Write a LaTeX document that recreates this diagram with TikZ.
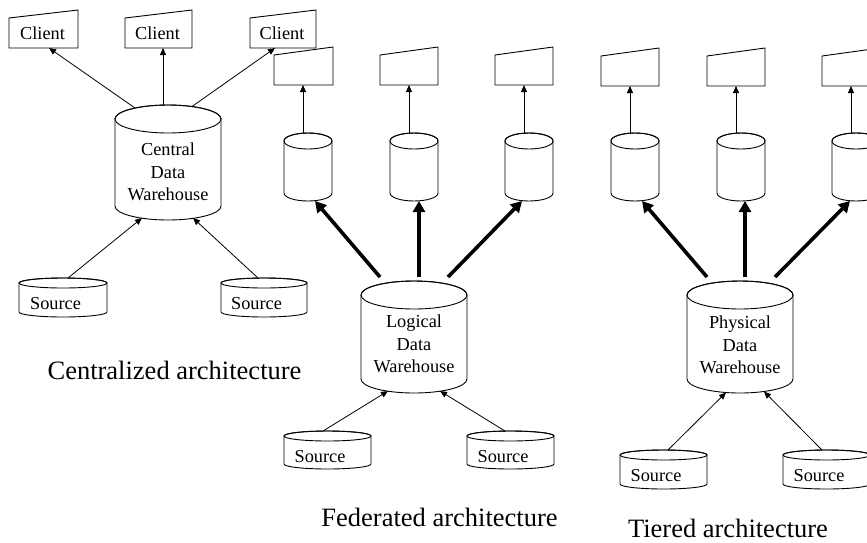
\documentclass[tikz,border=0pt]{standalone}
\usepackage{fontspec}
\setmainfont{Liberation Serif}
\usetikzlibrary{arrows.meta,calc}
\tikzset{
  thinline/.style={line width=0.9pt, line join=miter},
  conn/.style={line width=0.8pt, -{Triangle[length=7pt,width=6pt]}},
  bigconn/.style={line width=3.6pt, -{Triangle[length=11pt,width=12pt]}},
  lbl/.style={font=\fontsize{18.3}{22.5}\selectfont, inner sep=0pt, align=center},
  captxt/.style={font=\fontsize{26.5}{30}\selectfont, inner sep=0pt},
  anchorbox/.style={rectangle, inner sep=0pt, outer sep=0pt, draw=none}
}
% cylinder: name, x1, x2, ytop, ybot, ry
\newcommand\dbcyl[6]{%
  \pgfmathsetmacro\cylcx{(#2+#3)/2}%
  \pgfmathsetmacro\cylrx{(#3-#2)/2}%
  \pgfmathsetmacro\cylya{#4+#6}%
  \pgfmathsetmacro\cylyb{#5-#6}%
  \pgfmathsetmacro\cylcy{(#4+#5)/2}%
  \pgfmathsetmacro\cylw{#3-#2}%
  \pgfmathsetmacro\cylh{#5-#4}%
  \filldraw[thinline,fill=white] (#2,\cylya) -- (#2,\cylyb)
     arc[start angle=180,end angle=360,x radius=\cylrx pt,y radius=#6pt]
     -- (#3,\cylya)
     arc[start angle=0,end angle=180,x radius=\cylrx pt,y radius=#6pt] -- cycle;
  \draw[thinline] (\cylcx,\cylya) ellipse[x radius=\cylrx pt,y radius=#6pt];
  \node[anchorbox,minimum width=\cylw pt,minimum height=\cylh pt] (#1) at (\cylcx,\cylcy) {};
}
% terminal: name, x1, x2, ybot
\newcommand\termbox[4]{%
  \pgfmathsetmacro\tmcx{(#2+#3)/2}%
  \pgfmathsetmacro\tmw{#3-#2}%
  \filldraw[thinline,fill=white] (#2,#4) -- (#2,#4-30) -- (#3,#4-38) -- (#3,#4) -- cycle;
  \node[anchorbox,minimum width=\tmw pt,minimum height=38pt] (#1) at (\tmcx,#4-19) {};
}
% source: name, x1, x2, ytop, ybot
\newcommand\srccyl[5]{%
  \dbcyl{#1}{#2}{#3}{#4}{#5}{5}%
  \node[lbl] (#1-t) at ($(#1.north)+(-7.5,26)$) {Source};
}
\begin{document}
\begin{tikzpicture}[x=1pt,y=-1pt]
\clip (0,0) rectangle (867,542);
\fill[white] (0,0) rectangle (867,542);

% ---------------- Federated ----------------
\termbox{f1}{274}{333}{85}
\termbox{f2}{380}{438}{85}
\termbox{f3}{495}{553}{85}
\dbcyl{fc1}{284}{332}{133}{201}{8}
\dbcyl{fc2}{390}{438}{133}{201}{8}
\dbcyl{fc3}{505}{553}{133}{201}{8}
\draw[conn] ($(fc1.north)+(-5,0)$) -- ($(f1.south)+(-0.5,0)$);
\draw[conn] ($(fc2.north)+(-5,0)$) -- (f2.south);
\draw[conn] ($(fc3.north)+(-5,0)$) -- (f3.south);
\dbcyl{ldw}{361}{467}{281}{393}{14}
\node[lbl] (ldw-t) at (414,344) {Logical\\Data\\Warehouse};
\draw[bigconn] ($(ldw.north)+(-34,-4)$) -- ($(fc1.south)+(7,0)$);
\draw[bigconn] ($(ldw.north)+(5,-4)$) -- ($(fc2.south)+(5,0)$);
\draw[bigconn] ($(ldw.north)+(34,-4)$) -- ($(fc3.south)+(-7,0)$);
\srccyl{fs1}{284}{371}{431}{469}
\srccyl{fs2}{467}{554}{431}{469}
\draw[conn] ($(fs1.north)+(-4.5,0)$) -- ($(ldw.south)+(-26,-2)$);
\draw[conn] ($(fs2.north)+(-5.5,0)$) -- ($(ldw.south)+(26,-2)$);
\node[captxt] (capf) at (439.5,517) {Federated architecture};

% ---------------- Centralized ----------------
\termbox{c1}{9}{78}{48}
\termbox{c2}{125}{192}{48}
\termbox{c3}{250}{316}{48}
\node[lbl] (c1-t) at (42.5,33) {Client};
\node[lbl] (c2-t) at (157.5,33) {Client};
\node[lbl] (c3-t) at (282,33) {Client};
\dbcyl{cdw}{115}{221}{105}{220}{14}
\node[lbl] (cdw-t) at (168,172) {Central\\Data\\Warehouse};
\draw[conn] ($(cdw.north)+(-33,3)$) -- ($(c1.south)+(5.5,0)$);
\draw[conn] ($(cdw.north)+(-5,0)$) -- ($(c2.south)+(4.5,0)$);
\draw[conn] ($(cdw.north)+(24,1.5)$) -- ($(c3.south)+(-8,0)$);
\srccyl{cs1}{19}{107}{278}{317}
\srccyl{cs2}{221}{307}{278}{317}
\draw[conn] ($(cs1.north)+(5,0)$) -- ($(cdw.south)+(-26,-2)$);
\draw[conn] ($(cs2.north)+(-6,0)$) -- ($(cdw.south)+(25,-2)$);
\node[captxt] (capc) at (174.5,370) {Centralized architecture};

% ---------------- Tiered ----------------
\termbox{t1}{601}{659}{86}
\termbox{t2}{707}{765}{86}
\termbox{t3}{822}{880}{86}
\dbcyl{tc1}{611}{659}{133}{201}{8}
\dbcyl{tc2}{717}{765}{133}{201}{8}
\dbcyl{tc3}{832}{880}{133}{201}{8}
\draw[conn] ($(tc1.north)+(-5,0)$) -- (t1.south);
\draw[conn] ($(tc2.north)+(-5,0)$) -- (t2.south);
\draw[conn] ($(tc3.north)+(-5,0)$) -- (t3.south);
\dbcyl{pdw}{687}{793}{281}{393}{14}
\node[lbl] (pdw-t) at (740,345) {Physical\\Data\\Warehouse};
\draw[bigconn] ($(pdw.north)+(-33,-4)$) -- ($(tc1.south)+(7,0)$);
\draw[bigconn] ($(pdw.north)+(5,-4)$) -- ($(tc2.south)+(4,0)$);
\draw[bigconn] ($(pdw.north)+(35,-4)$) -- ($(tc3.south)+(-6,0)$);
\srccyl{ts1}{620}{707}{450}{489}
\srccyl{ts2}{783}{870}{450}{489}
\draw[conn] ($(ts1.north)+(4.5,0)$) -- ($(pdw.south)+(-14,-0.5)$);
\draw[conn] ($(ts2.north)+(-4.5,0)$) -- ($(pdw.south)+(24,-1.5)$);
\node[captxt] (capt) at (728,528) {Tiered architecture};
\end{tikzpicture}
\end{document}
